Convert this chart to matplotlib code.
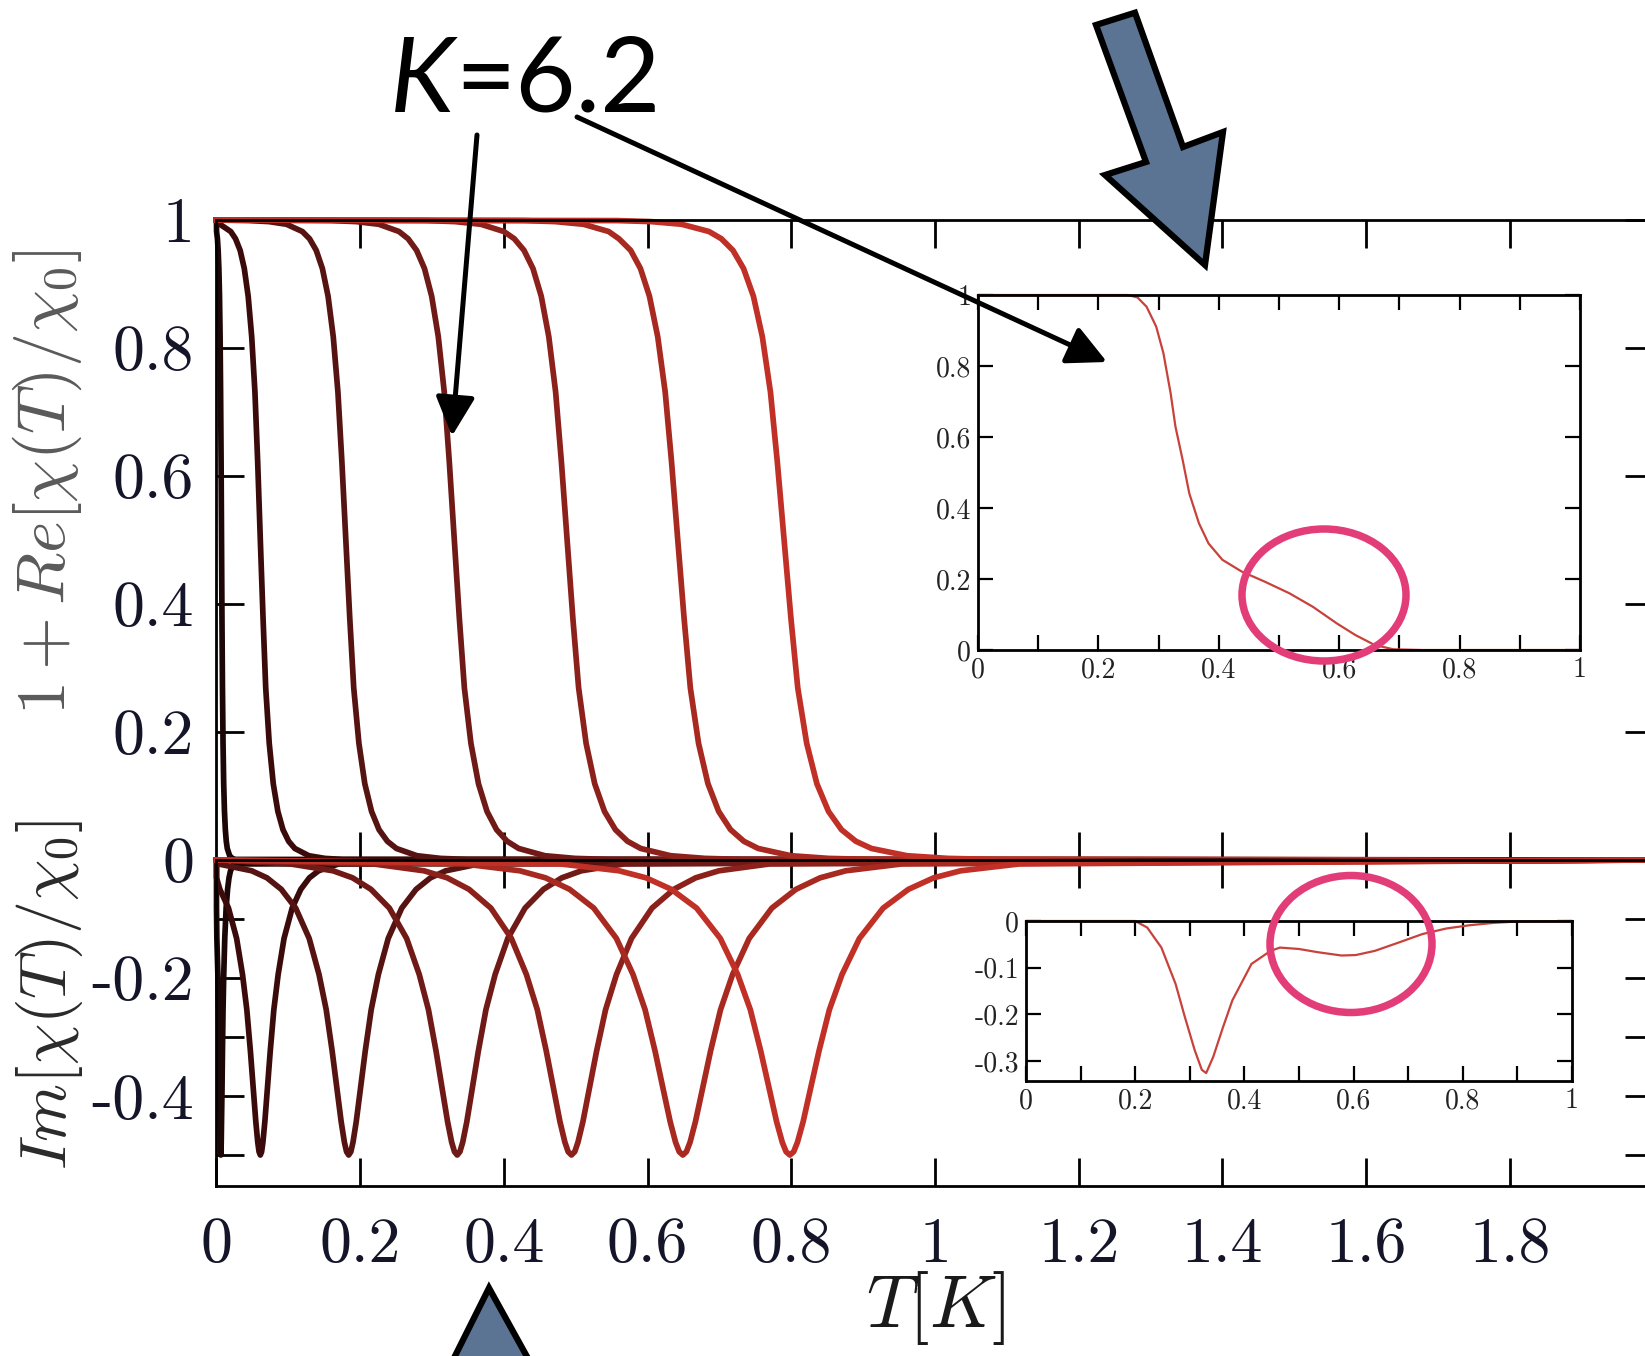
import matplotlib.pyplot as plt
from matplotlib.patches import Polygon, Ellipse

plt.rcParams['mathtext.fontset'] = 'cm'
plt.rcParams['axes.unicode_minus'] = False

W, H = 1645, 1356

# --- data ---
# top panel: 1 + Re[chi/chi0]; T at which each curve passes the given level
re_level = [1, 0.9991, 0.9975, 0.9933, 0.982, 0.9707, 0.9526, 0.9241, 0.8808,
            0.8176, 0.7311, 0.6225, 0.5, 0.3775, 0.2689, 0.1824, 0.1192,
            0.0759, 0.0474, 0.0293, 0.018, 0.0067, 0.0025, 0.0009, 0]
re_T = [
    [0, 0, 0, 0, 0.0001, 0.0013, 0.0023, 0.0033, 0.0042, 0.005, 0.0057, 0.0064,
     0.007, 0.0076, 0.0083, 0.0091, 0.01, 0.0111, 0.0123, 0.0136, 0.015,
     0.0183, 0.022, 0.0263, 2.0],
    [0, 0, 0, 0.0048, 0.0198, 0.0265, 0.0329, 0.0387, 0.0441, 0.049, 0.0535,
     0.0573, 0.061, 0.0648, 0.0685, 0.0734, 0.079, 0.0854, 0.0925, 0.1004,
     0.109, 0.1285, 0.151, 0.1765, 2.0],
    [0, 0.0453, 0.0728, 0.0975, 0.1195, 0.1295, 0.1388, 0.1474, 0.1553, 0.1625,
     0.169, 0.1745, 0.18, 0.1855, 0.191, 0.1982, 0.2064, 0.2158, 0.2262,
     0.2378, 0.2504, 0.279, 0.312, 0.3494, 2.0],
    [0, 0.1595, 0.1945, 0.226, 0.254, 0.2667, 0.2785, 0.2895, 0.2995, 0.3087,
     0.317, 0.324, 0.331, 0.338, 0.345, 0.3541, 0.3646, 0.3765, 0.3898,
     0.4045, 0.4206, 0.457, 0.499, 0.5466, 2.0],
    [0, 0.292, 0.332, 0.368, 0.4, 0.4145, 0.428, 0.4405, 0.452, 0.4625, 0.472,
     0.48, 0.488, 0.496, 0.504, 0.5144, 0.5264, 0.54, 0.5552, 0.572, 0.5904,
     0.632, 0.68, 0.7344, 2.0],
    [0, 0.4276, 0.4714, 0.5108, 0.5458, 0.5601, 0.5764, 0.5901, 0.6026, 0.6141,
     0.6245, 0.6333, 0.642, 0.6508, 0.6595, 0.6709, 0.684, 0.6989, 0.7155,
     0.7339, 0.754, 0.7995, 0.852, 0.9115, 2.0],
    [0, 0.5573, 0.6048, 0.6475, 0.6855, 0.7027, 0.7188, 0.7336, 0.7473, 0.7597,
     0.771, 0.7805, 0.79, 0.7995, 0.809, 0.8214, 0.8356, 0.8518, 0.8698,
     0.8898, 0.9116, 0.961, 1.018, 1.0826, 2.0],
]

# bottom panel: Im[chi/chi0]
im_level = [0, -0.0067, -0.0183, -0.0302, -0.0497, -0.0815, -0.1329, -0.194,
            -0.2537, -0.324, -0.3862, -0.4434, -0.4783, -0.4944, -0.5,
            -0.4944, -0.4783, -0.4434, -0.3862, -0.324, -0.2537, -0.194,
            -0.1329, -0.0815, -0.0497, -0.0302, -0.0183, -0.0067, 0]
im_T = [
    [0, 0, 0, 0, 0, 0, 0.0005, 0.0019, 0.0029, 0.0037, 0.0044, 0.005, 0.0054,
     0.0057, 0.006, 0.0063, 0.0066, 0.007, 0.0077, 0.0083, 0.0091, 0.0101,
     0.0115, 0.0134, 0.0154, 0.0174, 0.0195, 0.0241, 2.0],
    [0, 0, 0, 0, 0.0047, 0.0167, 0.028, 0.0362, 0.0422, 0.0472, 0.0511, 0.0547,
     0.0574, 0.0592, 0.061, 0.0628, 0.0646, 0.0673, 0.0709, 0.0748, 0.0798,
     0.0858, 0.094, 0.1053, 0.1173, 0.1293, 0.142, 0.1698, 2.0],
    [0, 0.0027, 0.049, 0.0702, 0.0902, 0.1102, 0.129, 0.1427, 0.1527, 0.161,
     0.1675, 0.1735, 0.178, 0.181, 0.184, 0.187, 0.19, 0.1945, 0.2005, 0.207,
     0.2153, 0.2253, 0.239, 0.2578, 0.2778, 0.2978, 0.319, 0.3653, 2.0],
    [0, 0.103, 0.1622, 0.1894, 0.215, 0.2406, 0.2646, 0.2822, 0.295, 0.3056,
     0.3139, 0.3216, 0.3273, 0.3312, 0.335, 0.3388, 0.3427, 0.3484, 0.3561,
     0.3644, 0.375, 0.3878, 0.4054, 0.4294, 0.455, 0.4806, 0.5078, 0.567, 2.0],
    [0, 0.2185, 0.2888, 0.3211, 0.3515, 0.3819, 0.4104, 0.4313, 0.4465, 0.459,
     0.4689, 0.478, 0.4849, 0.4894, 0.494, 0.4986, 0.5031, 0.51, 0.5191,
     0.529, 0.5415, 0.5567, 0.5776, 0.6061, 0.6365, 0.6669, 0.6992, 0.7695,
     2.0],
    [0, 0.3445, 0.4222, 0.4579, 0.4915, 0.5251, 0.5566, 0.5797, 0.5965, 0.6104,
     0.6213, 0.6314, 0.6389, 0.644, 0.649, 0.654, 0.6591, 0.6666, 0.6767,
     0.6876, 0.7015, 0.7183, 0.7414, 0.7729, 0.8065, 0.8401, 0.8758, 0.9535,
     2.0],
    [0, 0.479, 0.5604, 0.5978, 0.633, 0.6682, 0.7012, 0.7254, 0.743, 0.7575,
     0.769, 0.7795, 0.7874, 0.7927, 0.798, 0.8033, 0.8086, 0.8165, 0.827,
     0.8385, 0.853, 0.8706, 0.8948, 0.9278, 0.963, 0.9982, 1.0356, 1.117, 2.0],
]

curve_colors = ['#1c0606', '#3b0b0b', '#551411', '#6f1a16', '#8c211b',
                '#a8291f', '#c03026']

# insets (single curve each)
ins_re_T = [0, 0.249, 0.265, 0.28, 0.296, 0.308, 0.32, 0.328, 0.34, 0.351,
            0.367, 0.383, 0.406, 0.438, 0.477, 0.517, 0.556, 0.596, 0.627,
            0.659, 0.69, 0.738, 1.0]
ins_re_y = [1, 1, 0.993, 0.967, 0.911, 0.836, 0.723, 0.629, 0.535, 0.441,
            0.357, 0.30, 0.254, 0.221, 0.192, 0.160, 0.122, 0.075, 0.042,
            0.014, 0.002, 0, 0]
ins_im_T = [0, 0.2, 0.222, 0.248, 0.274, 0.291, 0.309, 0.322, 0.33, 0.343,
            0.361, 0.378, 0.413, 0.448, 0.465, 0.5, 0.535, 0.578, 0.604,
            0.639, 0.683, 0.726, 0.77, 0.813, 0.857, 0.9, 1.0]
ins_im_y = [0, 0, -0.014, -0.057, -0.135, -0.206, -0.277, -0.319, -0.326,
            -0.291, -0.227, -0.170, -0.092, -0.064, -0.057, -0.060, -0.067,
            -0.074, -0.073, -0.064, -0.046, -0.028, -0.016, -0.009, -0.004,
            -0.001, 0]

main_xticks = [0, 0.2, 0.4, 0.6, 0.8, 1.0, 1.2, 1.4, 1.6, 1.8]
main_xlabels = ['0', '0.2', '0.4', '0.6', '0.8', '1', '1.2', '1.4', '1.6', '1.8']
re_yticks = [0, 0.2, 0.4, 0.6, 0.8, 1.0]
re_ylabels = ['0', '0.2', '0.4', '0.6', '0.8', '1']
im_yticks = [-0.5, -0.4, -0.3, -0.2, -0.1]
im_ylabels = ['', '-0.4', '', '-0.2', '']
ins_xticks = [0, 0.1, 0.2, 0.3, 0.4, 0.5, 0.6, 0.7, 0.8, 0.9, 1.0]
ins_xlabels = ['0', '', '0.2', '', '0.4', '', '0.6', '', '0.8', '', '1']


def box(x0, y0, x1, y1):
    return [x0 / W, 1 - y1 / H, (x1 - x0) / W, (y1 - y0) / H]


fig = plt.figure(figsize=(W / 100, H / 100), dpi=100)
ax_re = fig.add_axes(box(216.5, 220, 1653.5, 860))
ax_im = fig.add_axes(box(216.5, 860, 1653.5, 1186))

for T, c in zip(re_T, curve_colors):
    ax_re.plot(T, re_level, color=c, lw=4.1, clip_on=False,
               solid_joinstyle='round')
for T, c in zip(im_T, curve_colors):
    ax_im.plot(T, im_level, color=c, lw=4.1, clip_on=False,
               solid_joinstyle='round')

tick_col = '#15152a'
for ax in (ax_re, ax_im):
    ax.set_xlim(0, 2.0)
    for s in ax.spines.values():
        s.set_linewidth(2.0)
    ax.tick_params(direction='in', length=20, width=2.0, top=True, right=True,
                   labelsize=46, labelcolor=tick_col, labelfontfamily='cmr10')
    ax.tick_params(axis='y', pad=16)
    ax.tick_params(axis='x', pad=22)

ax_re.set_ylim(0, 1)
ax_re.set_yticks(re_yticks, re_ylabels)
ax_re.set_xticks(main_xticks[1:])
ax_re.tick_params(axis='x', labelbottom=False)

ax_im.set_ylim(-0.5525, 0)
ax_im.set_yticks(im_yticks, im_ylabels)
ax_im.set_xticks(main_xticks, main_xlabels)

fig.text(47 / W, 1 - 482 / H, r'$1 + Re[\chi(T)/\chi_0]$', rotation=90,
         ha='center', va='center', fontsize=49, color='#5a5a5a')
fig.text(50 / W, 1 - 995 / H, r'$Im[\chi(T)/\chi_0]$', rotation=90,
         ha='center', va='center', fontsize=47.5, color='#2a2a2a')
fig.text(936 / W, 1 - 1308 / H, r'$T[K]$', ha='center', va='center',
         fontsize=53, color='#1a1a1a')

# --- insets ---
in1 = fig.add_axes(box(978, 295, 1580, 650))
in1.plot(ins_re_T, ins_re_y, color='#c8423c', lw=1.6, clip_on=False)
in1.set_xlim(0, 1)
in1.set_ylim(0, 1)
in1.set_yticks(re_yticks, re_ylabels)

in2 = fig.add_axes(box(1026, 921, 1572, 1081))
in2.plot(ins_im_T, ins_im_y, color='#c8423c', lw=1.6, clip_on=False)
in2.set_xlim(0, 1)
in2.set_ylim(-0.343, 0)
in2.set_yticks([-0.3, -0.2, -0.1, 0], ['-0.3', '-0.2', '-0.1', '0'])

for ax in (in1, in2):
    ax.set_xticks(ins_xticks, ins_xlabels)
    for s in ax.spines.values():
        s.set_linewidth(2.0)
    ax.tick_params(direction='in', length=11, width=1.6, top=True, right=True,
                   labelsize=20, labelcolor='#222222', pad=5,
                   labelfontfamily='cmr10')

# --- overlay annotations (pixel coordinates) ---
ov = fig.add_axes([0, 0, 1, 1], zorder=10)
ov.set_xlim(0, W)
ov.set_ylim(H, 0)
ov.axis('off')
ov.patch.set_alpha(0)

tk = ov.text(390, 112, 'K', fontsize=75, fontfamily='Lato', fontstyle='italic',
             ha='left', va='baseline', color='black')
fig.canvas.draw()
bb = tk.get_window_extent()
ov.text(bb.x1 + 1, 112, '=6.2', fontsize=75, fontfamily='Lato',
        ha='left', va='baseline', color='black')

arrow_kw = dict(arrowstyle='-|>,head_length=1.0,head_width=0.5', lw=3.6,
                color='black', mutation_scale=24, shrinkA=0, shrinkB=0)
ov.annotate('', xy=(452, 436), xytext=(477, 135), arrowprops=arrow_kw)
ov.annotate('', xy=(1107, 362), xytext=(577, 117), arrowprops=arrow_kw)

block_fill = '#5b7493'
ov.add_patch(Polygon([(1096, 25), (1135, 12.7), (1183, 147), (1223, 132),
                      (1205, 265), (1105, 175), (1146, 162)], closed=True,
                     facecolor=block_fill, edgecolor='black', lw=4.5,
                     joinstyle='miter'))
ov.add_patch(Polygon([(489, 1288), (551, 1400), (433, 1400)], closed=True,
                     facecolor=block_fill, edgecolor='black', lw=4.5,
                     joinstyle='miter', clip_on=False))

ring = '#e23d78'
ov.add_patch(Ellipse((1324, 595), 164, 132, fill=False, edgecolor=ring, lw=5.4))
ov.add_patch(Ellipse((1351, 944), 162, 137, fill=False, edgecolor=ring, lw=5.4))

fig.savefig('out.png', dpi=100)
